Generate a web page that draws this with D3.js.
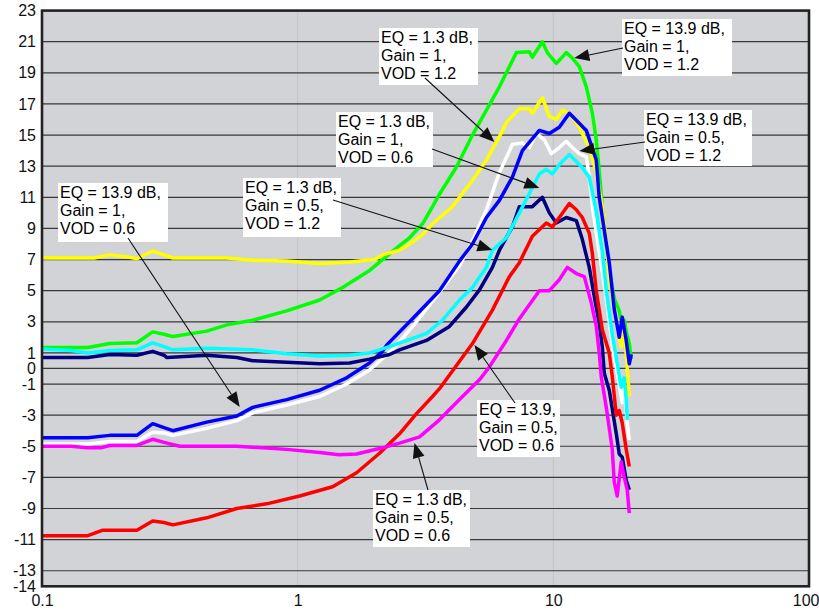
<html>
<head>
<meta charset="utf-8">
<title>EQ / Gain / VOD response</title>
<script type="text/javascript" src="https://cdn.jsdelivr.net/npm/d3@7"></script>
<style>
  body { margin: 0; background: #fff; }
  text { font-family: "Liberation Sans", Arial, sans-serif; }
</style>
</head>
<body>
<div id="chart"></div>
<script type="text/javascript">

// axis ticks
var xTicks = [0.1, 1, 10, 100];
var yTicks = [23, 21, 19, 17, 15, 13, 11, 9, 7, 5, 3, 1, 0, -1, -3, -5, -7, -9, -11, -13, -14];

// measured curves, [frequency, value]
var green = [[0.1,1.35],[0.151,1.35],[0.184,1.6],[0.235,1.65],[0.271,2.35],[0.3,2.2],[0.325,2.05],[0.441,2.4],[0.528,2.8],[0.667,3.1],[0.906,3.7],[1.219,4.4],[1.499,5.2],[1.911,6.3],[2.227,7.2],[2.503,7.9],[2.738,8.4],[3.079,9.3],[3.369,10.4],[3.587,11.2],[4.179,12.95],[4.827,15.0],[5.474,16.6],[6.153,18.1],[7.17,20.3],[8.058,20.35],[8.279,20.0],[9.057,21.0],[9.475,20.3],[10.27,19.6],[11.24,20.3],[11.86,19.95],[12.64,19.4],[13.46,18.1],[14.21,16.4],[14.72,14.7],[15.12,12.7],[15.54,10.4],[16.11,8.0],[16.55,6.3],[17.31,4.5],[18.11,3.7],[18.6,2.7],[18.94,3.1],[19.28,2.4],[19.82,1.6],[20.17,0.6]];
var yellow = [[0.1,7.1],[0.16,7.1],[0.184,7.3],[0.22,7.15],[0.235,7.05],[0.271,7.55],[0.3,7.3],[0.325,7.1],[0.528,7.1],[0.667,6.95],[0.9,6.9],[1.219,6.75],[1.6,6.85],[2.0,7.0],[2.148,7.3],[2.5,7.6],[2.738,8.0],[3.079,8.6],[3.369,9.3],[4.031,10.4],[4.827,12.1],[5.474,13.4],[6.153,14.9],[6.553,15.8],[7.366,16.7],[8.058,16.7],[8.279,16.4],[9.057,17.4],[9.647,16.2],[10.27,16.0],[10.84,16.6],[11.55,16.4],[12.64,15.5],[13.82,14.2],[14.72,12.6],[15.54,10.4],[16.11,8.2],[16.55,5.8],[17.31,3.8],[18.11,2.0],[18.43,1.4],[18.94,2.6],[19.46,0.0],[19.82,-1.8]];
var white = [[0.1,-4.85],[0.151,-4.85],[0.184,-4.7],[0.235,-4.7],[0.271,-4.1],[0.3,-4.15],[0.325,-4.3],[0.441,-3.85],[0.578,-3.35],[0.667,-2.85],[0.906,-2.35],[1.219,-1.8],[1.554,-1.0],[1.911,-0.1],[2.35,1.2],[2.916,3.0],[3.587,4.9],[4.294,6.6],[4.827,8.2],[5.474,10.2],[6.153,12.6],[6.916,14.4],[7.567,14.5],[8.058,14.2],[8.58,15.1],[9.222,14.7],[9.822,13.8],[10.55,14.2],[11.24,14.6],[11.86,14.2],[12.64,13.8],[13.46,13.6],[13.82,12.3],[14.21,10.4],[15.12,7.5],[16.11,4.5],[17.0,1.5],[18.11,-1.0],[18.6,-2.2],[18.94,-1.3],[19.46,-3.5],[19.82,-4.6]];
var blue = [[0.1,-4.45],[0.151,-4.45],[0.184,-4.3],[0.235,-4.3],[0.271,-3.55],[0.3,-3.8],[0.325,-4.0],[0.441,-3.45],[0.578,-3.05],[0.667,-2.5],[0.906,-2.0],[1.219,-1.4],[1.554,-0.6],[1.911,0.35],[2.148,1.1],[2.227,1.5],[2.813,3.2],[3.587,5.0],[4.294,6.9],[4.827,8.0],[5.474,9.7],[6.153,10.8],[6.916,12.3],[7.567,14.0],[8.816,15.3],[9.647,15.1],[10.55,15.5],[11.55,16.4],[12.3,15.95],[13.46,15.3],[14.72,13.4],[15.12,11.0],[16.55,6.8],[17.31,3.8],[18.11,2.0],[18.6,3.3],[19.28,1.8],[19.82,0.3],[20.17,0.9]];
var navy = [[0.1,0.7],[0.151,0.7],[0.184,0.9],[0.235,0.85],[0.271,1.1],[0.3,0.85],[0.308,0.7],[0.441,0.85],[0.578,0.7],[0.667,0.5],[0.906,0.4],[1.219,0.3],[1.596,0.35],[1.911,0.6],[2.288,0.9],[2.503,1.2],[3.191,1.8],[3.924,2.7],[4.573,3.95],[5.141,5.05],[5.777,6.5],[6.153,7.6],[6.916,9.1],[7.366,10.4],[8.279,10.4],[9.057,11.0],[9.647,10.0],[10.27,9.35],[11.24,9.7],[12.3,9.5],[12.98,8.3],[13.82,6.5],[14.47,4.6],[15.12,2.9],[15.54,1.4],[15.82,-0.3],[16.55,-1.4],[17.63,-4.2],[18.11,-5.5],[18.6,-5.7],[19.28,-7.2],[19.82,-7.8]];
var cyan = [[0.1,1.25],[0.13,1.15],[0.151,1.0],[0.184,1.15],[0.235,1.2],[0.271,1.65],[0.3,1.4],[0.325,1.2],[0.441,1.3],[0.667,1.2],[0.906,0.95],[1.219,0.8],[1.596,0.85],[1.911,1.0],[2.288,1.4],[3.191,2.25],[3.685,3.1],[4.294,4.4],[4.827,5.2],[5.474,6.5],[5.777,7.6],[6.553,8.4],[7.366,10.0],[8.816,12.5],[9.391,12.8],[9.911,12.5],[10.55,13.1],[11.55,13.75],[12.3,13.3],[12.98,12.9],[13.82,12.3],[14.72,10.1],[15.54,7.5],[16.11,5.0],[17.0,2.2],[17.78,0.3],[18.43,-1.2],[18.94,-0.6],[19.28,-2.0],[19.46,-3.3]];
var red = [[0.1,-10.75],[0.151,-10.75],[0.172,-10.4],[0.235,-10.4],[0.271,-9.8],[0.3,-9.9],[0.325,-10.05],[0.441,-9.6],[0.578,-9.0],[0.757,-8.7],[1.018,-8.2],[1.37,-7.6],[1.7,-6.7],[2.091,-5.45],[2.503,-4.2],[2.916,-2.9],[3.369,-1.8],[3.587,-1.3],[4.827,1.6],[5.777,3.75],[6.732,5.9],[7.366,6.8],[8.279,8.5],[9.391,9.35],[9.911,9.1],[10.55,9.7],[11.55,10.6],[12.3,10.2],[12.98,9.7],[13.82,8.7],[14.21,7.4],[14.72,5.0],[15.54,2.5],[16.55,1.0],[17.0,-0.5],[17.63,-3.0],[18.11,-2.7],[18.6,-3.5],[19.28,-5.2],[19.82,-6.3]];
var magenta = [[0.1,-5.0],[0.13,-5.0],[0.15,-5.1],[0.17,-5.1],[0.184,-4.95],[0.235,-4.95],[0.271,-4.55],[0.3,-4.75],[0.346,-5.0],[0.578,-5.0],[0.906,-5.2],[1.219,-5.4],[1.45,-5.55],[1.7,-5.5],[2.148,-5.1],[2.503,-4.8],[2.997,-4.4],[3.587,-3.3],[4.294,-2.0],[5.141,-0.73],[5.623,0.1],[6.553,1.8],[7.366,3.2],[8.816,5.0],[9.647,5.0],[10.55,5.7],[11.34,6.5],[12.3,6.1],[13.22,5.9],[14.08,4.2],[14.72,2.7],[15.12,1.0],[15.4,-0.55],[16.11,-2.5],[17.0,-5.2],[17.31,-7.3],[17.78,-8.2],[18.43,-6.0],[18.94,-7.0],[19.46,-7.8],[19.82,-9.3]];

var series = [
    {name: "green", color: "#00ff00", values: green},
    {name: "yellow", color: "#ffff00", values: yellow},
    {name: "white", color: "#ffffff", values: white},
    {name: "blue", color: "#0000ff", values: blue},
    {name: "navy", color: "#000080", values: navy},
    {name: "cyan", color: "#00ffff", values: cyan},
    {name: "red", color: "#ff0000", values: red},
    {name: "magenta", color: "#ff00ff", values: magenta}
];

// callouts: text lines, box (px), arrow tip in data units
var callouts = [
    {lines: ["EQ = 1.3 dB,", "Gain = 1,", "VOD = 1.2"], box: [379, 28, 99, 57], from: [425, 78], tip: [5.884, 14.56]},
    {lines: ["EQ = 13.9 dB,", "Gain = 1,", "VOD = 1.2"], box: [622, 19, 110, 57], from: [623, 48], tip: [12.08, 19.95]},
    {lines: ["EQ = 13.9 dB,", "Gain = 0.5,", "VOD = 1.2"], box: [644, 110, 108, 56], from: [645, 142], tip: [12.64, 13.98]},
    {lines: ["EQ = 1.3 dB,", "Gain = 1,", "VOD = 0.6"], box: [336, 112, 97, 55], from: [432, 149], tip: [8.816, 11.6]},
    {lines: ["EQ = 1.3 dB,", "Gain = 0.5,", "VOD = 1.2"], box: [243, 178, 98, 59], from: [333, 200], tip: [5.777, 7.61]},
    {lines: ["EQ = 13.9 dB,", "Gain = 1,", "VOD = 0.6"], box: [58, 183, 110, 59], from: [128, 238], tip: [0.5935, -2.48]},
    {lines: ["EQ = 13.9,", "Gain = 0.5,", "VOD = 0.6"], box: [477, 400, 83, 57], from: [515, 403], tip: [4.914, 1.51]},
    {lines: ["EQ = 1.3 dB,", "Gain = 0.5,", "VOD = 0.6"], box: [373, 490, 97, 57], from: [428, 490], tip: [2.864, -4.79]}
];

var WIDTH = 819, HEIGHT = 612;
var LEFT = 42, RIGHT = 809, TOP = 10.6, BOTTOM = 586.3;

var svg = d3.select("#chart").append("svg")
    .attr("width", WIDTH)
    .attr("height", HEIGHT);

var x = d3.scaleLog().domain([0.1, 100]).range([LEFT, RIGHT]);
var y = d3.scaleLinear().domain([-14, 23]).range([BOTTOM, TOP]);

// plot background
svg.append("rect")
    .attr("x", LEFT).attr("y", TOP)
    .attr("width", RIGHT - LEFT).attr("height", BOTTOM - TOP)
    .attr("fill", "#d1d3d6");

// faint vertical grid at decades
svg.selectAll(".vgrid")
    .data(xTicks.slice(1, -1))
    .enter().append("line")
    .attr("class", "vgrid")
    .attr("x1", function(d) { return x(d); }).attr("x2", function(d) { return x(d); })
    .attr("y1", TOP).attr("y2", BOTTOM)
    .attr("stroke", "#c3c5c9").attr("stroke-width", 1);

// horizontal grid
svg.selectAll(".hgrid")
    .data(yTicks.slice(1, -1))
    .enter().append("line")
    .attr("class", "hgrid")
    .attr("x1", LEFT).attr("x2", RIGHT)
    .attr("y1", function(d) { return y(d); }).attr("y2", function(d) { return y(d); })
    .attr("stroke", "#383838").attr("stroke-width", 1.2);

// curves
var line = d3.line()
    .x(function(d) { return x(d[0]); })
    .y(function(d) { return y(d[1]); });

svg.selectAll(".curve")
    .data(series)
    .enter().append("path")
    .attr("class", "curve")
    .attr("d", function(s) { return line(s.values); })
    .attr("fill", "none")
    .attr("stroke", function(s) { return s.color; })
    .attr("stroke-width", 3.5)
    .attr("stroke-linejoin", "round");

// frame
svg.append("rect")
    .attr("x", LEFT).attr("y", TOP)
    .attr("width", RIGHT - LEFT).attr("height", BOTTOM - TOP)
    .attr("fill", "none")
    .attr("stroke", "#222").attr("stroke-width", 2.6);

// axes (labels only), plain hyphen for negatives like the original
var yAxis = svg.append("g")
    .attr("transform", "translate(" + LEFT + ",0)")
    .call(d3.axisLeft(y).tickValues(yTicks).tickSize(0).tickPadding(6)
        .tickFormat(function(d) { return String(d); }));
var xAxis = svg.append("g")
    .attr("transform", "translate(0," + BOTTOM + ")")
    .call(d3.axisBottom(x).tickValues(xTicks).tickSize(0).tickPadding(8)
        .tickFormat(function(d) { return String(d); }));

[yAxis, xAxis].forEach(function(g) {
    g.select(".domain").remove();
    g.selectAll("text")
        .attr("font-family", "'Liberation Sans', Arial, sans-serif")
        .attr("font-size", 16)
        .attr("fill", "#111");
});
// keep the last label inside the page
xAxis.selectAll(".tick text")
    .filter(function(d) { return d === 100; })
    .attr("text-anchor", "end")
    .attr("x", 10);

// callouts
var LINE_H = 18;
callouts.forEach(function(c) {
    var g = svg.append("g");
    g.append("rect")
        .attr("x", c.box[0]).attr("y", c.box[1])
        .attr("width", c.box[2]).attr("height", c.box[3])
        .attr("fill", "#fff");
    c.lines.forEach(function(t, i) {
        g.append("text")
            .attr("x", c.box[0] + 2)
            .attr("y", c.box[1] + 9 + i * LINE_H)
            .attr("dy", "0.35em")
            .attr("font-size", 16)
            .attr("fill", "#000")
            .text(t);
    });

    var tx = x(c.tip[0]), ty = y(c.tip[1]);
    var fx = c.from[0], fy = c.from[1];
    var ang = Math.atan2(ty - fy, tx - fx);
    var HEAD = 15, HALF = 6;
    var bx = tx - HEAD * Math.cos(ang), by = ty - HEAD * Math.sin(ang);
    g.append("line")
        .attr("x1", fx).attr("y1", fy)
        .attr("x2", bx).attr("y2", by)
        .attr("stroke", "#111").attr("stroke-width", 1.1);
    var pts = [
        [tx, ty],
        [bx + HALF * Math.sin(ang), by - HALF * Math.cos(ang)],
        [bx - HALF * Math.sin(ang), by + HALF * Math.cos(ang)]
    ];
    g.append("polygon")
        .attr("points", pts.map(function(p) { return p.join(","); }).join(" "))
        .attr("fill", "#111");
});

</script>
</body>
</html>
